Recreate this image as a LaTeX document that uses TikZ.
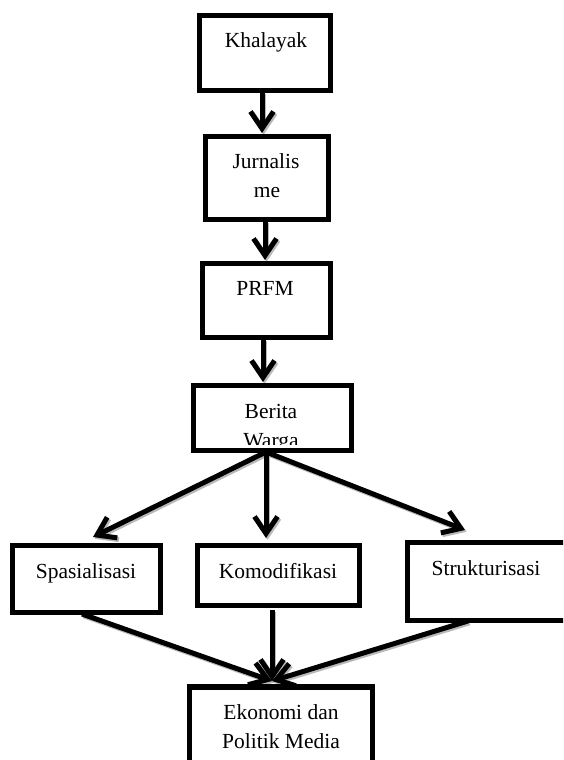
\documentclass[tikz,border=0pt]{standalone}
\usepackage{fontspec}
\setmainfont{Liberation Serif}
\usetikzlibrary{arrows.meta,calc}
\begin{document}
\begin{tikzpicture}[x=1pt,y=-1pt,
  box/.style={draw,line width=5.5pt,rectangle,inner sep=0pt,outer sep=0pt},
  lbl/.style={font=\fontsize{21.5}{28}\selectfont,inner sep=0pt,anchor=base},
  conn/.style={line width=5pt,-{Straight Barb[length=17pt,width=23pt]}},
  shade/.style={conn,draw=gray!55,transform canvas={shift={(1.6pt,-1.8pt)}}}]
\useasboundingbox (0,0) rectangle (563,760);
\clip (0,0) rectangle (563,760);

% connector ends
\coordinate (k1) at (262,92);   \coordinate (j1) at (262,133);
\coordinate (j2) at (265,221);  \coordinate (p1) at (265,260);
\coordinate (p2) at (263,339);  \coordinate (b1) at (263,382);
\coordinate (b2) at (266,452);
\coordinate (s1) at (93,537);   \coordinate (m1) at (266,538);  \coordinate (t1) at (465,530);
\coordinate (s2) at (82,614);   \coordinate (m2) at (272,610);  \coordinate (t2) at (468,621);
\coordinate (e1) at (272,681);

% shadows
\foreach \a/\b in {k1/j1,j2/p1,p2/b1,b2/s1,b2/m1,b2/t1,s2/e1,m2/e1,t2/e1}
  \draw[shade] (\a) -- (\b);
% arrows
\foreach \a/\b in {k1/j1,j2/p1,p2/b1,b2/s1,b2/m1,b2/t1,s2/e1,m2/e1,t2/e1}
  \draw[conn] (\a) -- (\b);

% boxes
\node[box,minimum width=131pt,minimum height=75pt] (kha) at (265,53) {};
\node[box,minimum width=123pt,minimum height=83pt] (jur) at (267,178) {};
\node[box,minimum width=128pt,minimum height=74pt] (prf) at (266.5,300.5) {};
\node[box,minimum width=158pt,minimum height=65pt] (ber) at (272.5,418) {};
\node[box,minimum width=148pt,minimum height=67pt] (spa) at (86.5,579) {};
\node[box,minimum width=162pt,minimum height=60pt] (kom) at (278.5,575.5) {};
\node[box,minimum width=165pt,minimum height=78pt] (str) at (490,581.5) {};
\node[box,minimum width=183pt,minimum height=90pt] (eko) at (281,732) {};

% labels
\node[lbl] (khat) at (266,48) {Khalayak};
\node[lbl] (jurt1) at (266,168) {Jurnalis};
\node[lbl] (jurt2) at (267,197) {me};
\node[lbl] (prft) at (265,295) {PRFM};
\node[lbl] (bert1) at (271,418) {Berita};
\begin{scope}
  \clip (195,388) rectangle (350,444);
  \node[lbl] (bert2) at (271,447) {Warga};
\end{scope}
\node[lbl] (spat) at (86,578) {Spasialisasi};
\node[lbl] (komt) at (278,578) {Komodifikasi};
\node[lbl] (strt) at (486,575) {Strukturisasi};
\node[lbl] (ekot1) at (281,719) {Ekonomi dan};
\node[lbl] (ekot2) at (281,748) {Politik Media};
\end{tikzpicture}
\end{document}
